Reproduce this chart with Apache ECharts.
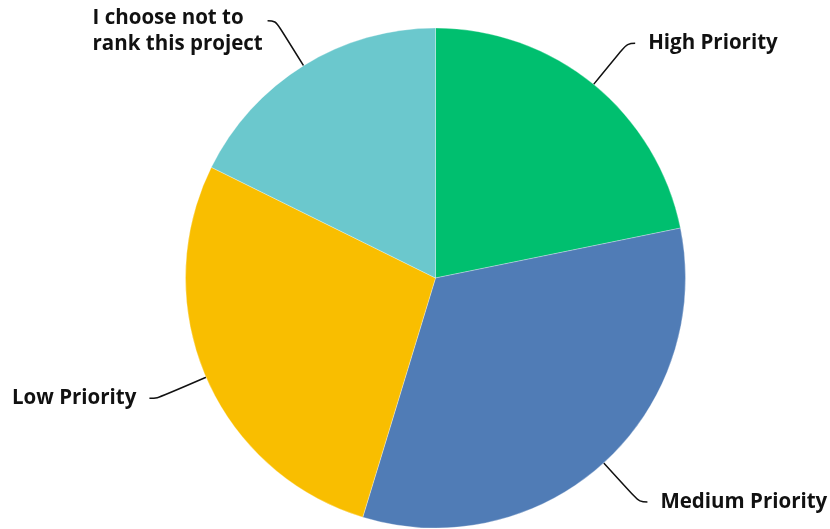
<!DOCTYPE html>
<html>
<head>
<meta charset="utf-8">
<style>
  html, body { margin: 0; padding: 0; background: #ffffff; }
  #chart { width: 830px; height: 529px; }
</style>
<script src="https://cdn.jsdelivr.net/npm/echarts@6/dist/echarts.min.js"></script>
</head>
<body>
<div id="chart"></div>
<script>
// Survey response shares (%), clockwise from 12 o'clock
const categories = ['High Priority', 'Medium Priority', 'Low Priority', 'I choose not to\nrank this project'];
const shares = [21.8, 32.9, 27.6, 17.7];
const colors = ['#00bf6f', '#507cb6', '#f9be00', '#6bc8cd'];

const chart = echarts.init(document.getElementById('chart'), null, { renderer: 'canvas' });

const labelFont = {
  color: '#111111',
  fontFamily: 'Open Sans',
  fontWeight: 'bold',
  fontSize: 20.5
};

chart.setOption({
  animation: false,
  series: [{
    type: 'pie',
    center: [435.5, 278],
    radius: 250,
    startAngle: 90,
    clockwise: true,
    avoidLabelOverlap: false,
    data: categories.map((name, i) => {
      const item = { name: name, value: shares[i], itemStyle: { color: colors[i] } };
      if (name.indexOf('\n') >= 0) {
        // two-line label: left-aligned lines, leader meets the first line
        item.label = {
          formatter: name.split('\n').map(s => '{t|' + s + '}').join('\n'),
          padding: [22, 0, 0, 0],
          distanceToLabelLine: 3,
          rich: { t: Object.assign({ width: 172, align: 'left', lineHeight: 26 }, labelFont) }
        };
      }
      return item;
    }),
    itemStyle: { borderColor: 'rgba(255,255,255,0.6)', borderWidth: 0.5 },
    label: Object.assign({
      show: true,
      formatter: '{b}',
      lineHeight: 26,
      distanceToLabelLine: 13
    }, labelFont),
    labelLine: {
      show: true,
      length: 53,
      length2: 8,
      smooth: 0.4,
      lineStyle: { color: '#111111', width: 1.5 }
    },
    emphasis: { disabled: true }
  }]
});
</script>
</body>
</html>
